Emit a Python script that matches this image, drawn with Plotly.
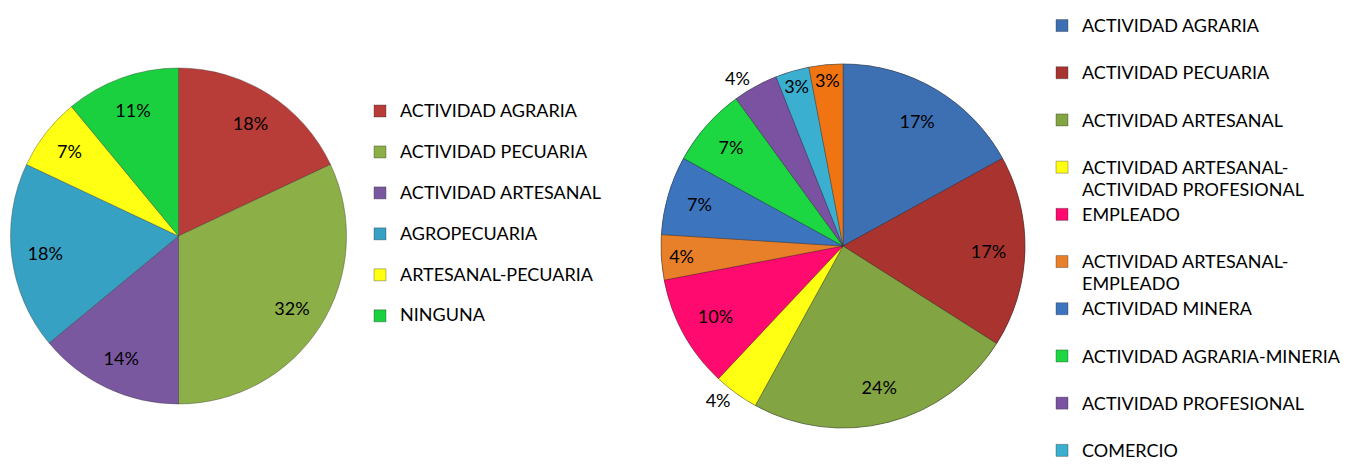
import plotly.graph_objects as go

# ---------------- data ----------------
left_labels = ["ACTIVIDAD AGRARIA", "ACTIVIDAD PECUARIA", "ACTIVIDAD ARTESANAL",
               "AGROPECUARIA", "ARTESANAL-PECUARIA", "NINGUNA"]
left_values = [18, 32, 14, 18, 7, 11]
left_colors = ["#B83C38", "#8DAF48", "#7A58A0", "#36A1C3", "#FFFF14", "#1AD03F"]
left_textpos = ["inside"] * 6

right_labels = ["ACTIVIDAD AGRARIA", "ACTIVIDAD PECUARIA", "ACTIVIDAD ARTESANAL",
                "ACTIVIDAD ARTESANAL-<br>ACTIVIDAD PROFESIONAL", "EMPLEADO",
                "ACTIVIDAD ARTESANAL-<br>EMPLEADO", "ACTIVIDAD MINERA",
                "ACTIVIDAD AGRARIA-MINERIA", "ACTIVIDAD PROFESIONAL", "COMERCIO", "OTROS"]
right_values = [17, 17, 24, 4, 10, 4, 7, 7, 4, 3, 3]
right_colors = ["#3D70B2", "#A8332F", "#82A443", "#FFFF14", "#FF0A6E", "#E8802A",
                "#3C74BE", "#1CD742", "#7B52A2", "#3AAFD0", "#F07412"]
right_textpos = ["inside", "inside", "inside", "outside", "inside", "inside",
                 "inside", "inside", "outside", "inside", "inside"]
right_legend_visible = 10    # the reference legend is cut off after COMERCIO

# ---------------- style ----------------
FONT = "Lato, 'Open Sans', sans-serif"
TXT = 18
OFF = 8                      # default page body margin
W, H = 1348 - OFF, 466 - OFF


def px(x):
    return (x - OFF) / W


def py(y):
    return 1 - (y - OFF) / H


def legend_label(lab, style, filler=True):
    parts = lab.split("<br>")
    wrapped = [f'<span style="{style}">{p}</span>' for p in parts]
    if len(wrapped) == 1 and filler:
        wrapped.append("\u00a0")
    return "<br>".join(wrapped)


def dom(x0, x1, top, bottom):
    return dict(x=[px(x0), px(x1)], y=[py(bottom), py(top)])


left_dom = dom(10, 347, 68, 404)
right_dom = dom(661, 1025, 64, 428)

# distinct span styles keep the two pies' legend entries separate
left_style = f"font-size:{TXT}px"
right_style = f"font-size:{TXT}px;"

edge = dict(color="rgba(40,40,40,0.35)", width=1)

fig = go.Figure()

# left pie
fig.add_trace(go.Pie(
    labels=[legend_label(l, left_style) for l in left_labels], values=left_values,
    marker=dict(colors=left_colors, line=edge), sort=False, direction="clockwise",
    textinfo="none", domain=left_dom, legend="legend",
))
fig.add_trace(go.Pie(
    labels=left_labels, values=left_values, hole=0.6,
    marker=dict(colors=["rgba(0,0,0,0)"] * len(left_values), line=dict(width=0)),
    sort=False, direction="clockwise", texttemplate="%{percent:.0%}",
    textposition=left_textpos, insidetextorientation="horizontal",
    textfont=dict(family=FONT, size=TXT, color="#000000"),
    domain=left_dom, showlegend=False,
))

# right pie: legend entries (drawn underneath, fully covered by the slices below)
n = right_legend_visible
fig.add_trace(go.Pie(
    labels=[legend_label(l, right_style, filler=(i < n - 1))
            for i, l in enumerate(right_labels[:n])],
    values=right_values[:n],
    marker=dict(colors=right_colors[:n], line=edge), sort=False, direction="clockwise",
    textinfo="none", domain=right_dom, legend="legend2",
))
# right pie: slices
fig.add_trace(go.Pie(
    labels=right_labels, values=right_values,
    marker=dict(colors=right_colors, line=edge), sort=False, direction="clockwise",
    textinfo="none", domain=right_dom, showlegend=False,
))
fig.add_trace(go.Pie(
    labels=right_labels, values=right_values, hole=0.6,
    marker=dict(colors=["rgba(0,0,0,0)"] * len(right_values), line=dict(width=0)),
    sort=False, direction="clockwise", texttemplate="%{percent:.0%}",
    textposition=right_textpos, insidetextorientation="horizontal",
    textfont=dict(family=FONT, size=TXT, color="#000000"),
    domain=right_dom, showlegend=False,
))

fig.update_layout(
    width=W, height=H,
    margin=dict(l=0, r=0, t=0, b=0, autoexpand=False),
    paper_bgcolor="white", plot_bgcolor="white",
    font=dict(family=FONT, color="#000000"),
    uniformtext=dict(minsize=TXT, mode="show"),
    legend=dict(x=px(360), y=py(95), xanchor="left", yanchor="top",
                valign="top", font=dict(family=FONT, size=14.6, color="#000000"),
                bgcolor="rgba(0,0,0,0)", borderwidth=0, traceorder="normal"),
    legend2=dict(x=px(1042), y=1, xanchor="left", yanchor="top",
                 valign="top", font=dict(family=FONT, size=17.0, color="#000000"),
                 bgcolor="rgba(0,0,0,0)", borderwidth=0, traceorder="normal"),
)

fig.write_html("out.html", config={"staticPlot": True})
